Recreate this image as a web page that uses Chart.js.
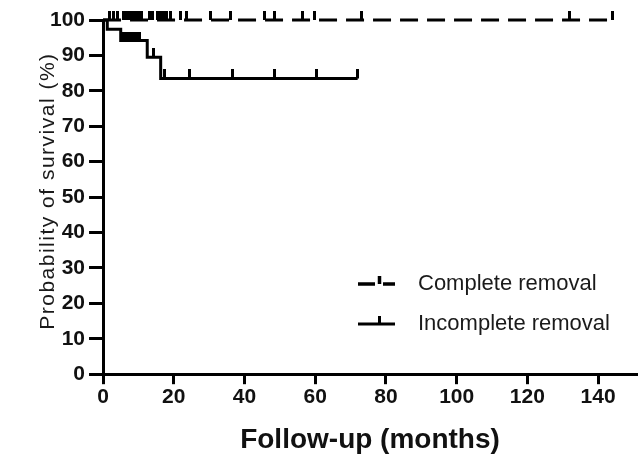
<!DOCTYPE html>
<html>
<head>
<meta charset="utf-8">
<script src="https://cdn.jsdelivr.net/npm/chart.js@4.4.1/dist/chart.umd.min.js"></script>
<style>
  body { margin: 0; background: #fff; }
  #wrap { position: relative; width: 643px; height: 461px; }
  #legend { position: absolute; left: 357px; top: 263px; font: 22px "Liberation Sans", Arial, sans-serif; color: #1a1a1a; }
  #legend div { display: flex; align-items: center; height: 40px; }
  #legend svg { margin-right: 22px; }
</style>
</head>
<body>
<div id="wrap">
  <canvas id="km" width="643" height="461"></canvas>
  <div id="legend">
    <div><svg width="39" height="20"><path d="M1 11H18M26 11H38M22.5 11V3" stroke="#000" stroke-width="3.5" fill="none"/></svg>Complete removal</div>
    <div><svg width="39" height="20"><path d="M1 11H38M22.5 11V3" stroke="#000" stroke-width="3" fill="none"/></svg>Incomplete removal</div>
  </div>
</div>
<script>
const xTicks = [0, 20, 40, 60, 80, 100, 120, 140];
const yTicks = [0, 10, 20, 30, 40, 50, 60, 70, 80, 90, 100];
const xTitle = "Follow-up (months)";
const yTitle = "Probability of survival (%)";

// Kaplan-Meier steps (months, survival %)
const compTimes = [0, 144];
const compSurv = [100, 100];
const compCensor = [1.7, 3.1, 4.2, 5.8, 6.6, 7.3, 8.0, 8.7, 9.4, 10.2, 10.9, 13.0, 14.0, 15.4, 16.2, 17.0, 18.0, 19.0,
                    22.0, 23.5, 30.3, 36.0, 45.7, 48.5, 56.4, 59.7, 73.0, 132.0, 144.0];

const incTimes = [0, 1.2, 5.0, 12.5, 16.3, 72.0];
const incSurv = [100, 97.4, 94.2, 89.5, 83.5, 83.5];
const incCensor = [5.6, 6.4, 7.2, 8.0, 8.8, 9.6, 10.4, 14.2, 17.5, 24.5, 36.5, 48.5, 60.3, 72.0];

function survAt(times, surv, t) {
  let s = surv[0];
  for (let i = 0; i < times.length; i++) if (times[i] <= t) s = surv[i];
  return s;
}

// censor mark: short upward tick
const tick = document.createElement("canvas");
tick.width = 3; tick.height = 18;
const tctx = tick.getContext("2d");
tctx.fillStyle = "#000";
tctx.fillRect(0, 0, 3, 9);

const yTitlePlugin = {
  id: "yTitle",
  afterDraw(chart) {
    const ctx = chart.ctx;
    ctx.save();
    ctx.translate(48, (chart.chartArea.top + chart.chartArea.bottom) / 2 - 6);
    ctx.rotate(-Math.PI / 2);
    ctx.font = '21px "Liberation Sans", Arial, sans-serif';
    ctx.letterSpacing = "1.5px";
    ctx.textAlign = "center";
    ctx.textBaseline = "middle";
    ctx.fillStyle = "#1a1a1a";
    ctx.fillText(yTitle, 0, 0);
    ctx.restore();
  }
};

const tickFont = { family: '"Liberation Sans", Arial, sans-serif', size: 21, weight: "bold" };

new Chart(document.getElementById("km"), {
  type: "line",
  data: {
    datasets: [
      {
        label: "Complete removal",
        data: compTimes.map((t, i) => ({ x: t, y: compSurv[i] })),
        borderColor: "#000", borderWidth: 3, borderDash: [18, 9],
        stepped: "before", pointRadius: 0, clip: false
      },
      {
        label: "Incomplete removal",
        data: incTimes.map((t, i) => ({ x: t, y: incSurv[i] })),
        borderColor: "#000", borderWidth: 3,
        stepped: "before", pointRadius: 0, clip: false
      },
      {
        label: "Complete censored",
        data: compCensor.map(t => ({ x: t, y: survAt(compTimes, compSurv, t) })),
        showLine: false, pointStyle: tick, pointRadius: 5, clip: false
      },
      {
        label: "Incomplete censored",
        data: incCensor.map(t => ({ x: t, y: survAt(incTimes, incSurv, t) })),
        showLine: false, pointStyle: tick, pointRadius: 5, clip: false
      }
    ]
  },
  options: {
    responsive: false,
    animation: false,
    layout: { padding: { left: 46, top: 20, right: 3, bottom: 4 } },
    plugins: { legend: { display: false }, tooltip: { enabled: false } },
    scales: {
      x: {
        type: "linear", min: 0, max: 151,
        afterBuildTicks: s => { s.ticks = xTicks.map(v => ({ value: v })); },
        ticks: { font: tickFont, color: "#111", padding: 0, maxRotation: 0 },
        grid: { drawOnChartArea: false, tickLength: 10, tickWidth: 3, tickColor: "#000" },
        border: { color: "#000", width: 3 },
        title: { display: true, text: xTitle, color: "#111",
                 font: { family: '"Liberation Sans", Arial, sans-serif', size: 28, weight: "bold" },
                 padding: { top: 14, bottom: 0 } }
      },
      y: {
        min: 0, max: 100,
        afterBuildTicks: s => { s.ticks = yTicks.map(v => ({ value: v })); },
        ticks: { font: tickFont, color: "#111", padding: 4 },
        grid: { drawOnChartArea: false, tickLength: 14, tickWidth: 3, tickColor: "#000" },
        border: { color: "#000", width: 3 }
      }
    }
  },
  plugins: [yTitlePlugin]
});
</script>
</body>
</html>
